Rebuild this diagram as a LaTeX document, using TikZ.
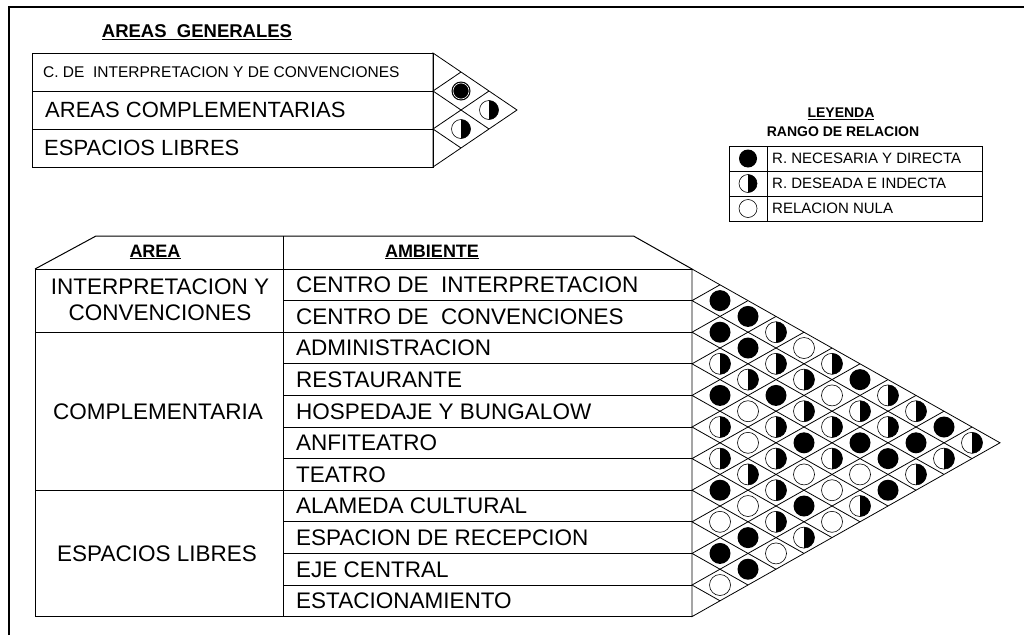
\documentclass[tikz,border=0pt]{standalone}
\usepackage{fontspec}
\setmainfont{Liberation Sans}
\usetikzlibrary{positioning}

\tikzset{
  tbl/.style={line width=1pt},
  gridln/.style={line width=0.8pt},
  relring/.style={line width=0.6pt},
  txtl/.style={anchor=west, inner sep=0pt, text depth=0pt},
  txtc/.style={anchor=center, inner sep=0pt, text depth=0pt},
  hdr/.style={anchor=center, inner sep=0pt, text depth=0pt, font=\bfseries\fontsize{18}{20}\selectfont},
}

% cell k (diagonal distance), i (upper row) of a relation triangle
\newcommand{\relB}[2]{\fill[black] ({\mx+#1*\ma},{\my+(2*#2+#1+1)*(\mb)}) circle (\rr);}
\newcommand{\relH}[2]{\draw[relring,fill=white] ({\mx+#1*\ma},{\my+(2*#2+#1+1)*(\mb)}) circle (\rr);
  \fill[black] ({\mx+#1*\ma},{\my+(2*#2+#1+1)*(\mb)}) ++(0,\rr) arc (90:-90:\rr) -- cycle;}
\newcommand{\relE}[2]{\draw[relring,fill=white] ({\mx+#1*\ma},{\my+(2*#2+#1+1)*(\mb)}) circle (\rr);}
% diamond grid of a relation triangle
\newcommand{\relgrid}{%
  \draw[gridln] (\mx,\my) -- ({\mx+\mn*\ma},{\my+\mn*(\mb)}) -- ({\mx},{\my+2*\mn*(\mb)}) -- cycle;
  \pgfmathtruncatemacro{\mlast}{\mn-1}
  \foreach \m in {1,...,\mlast}
    \draw[gridln] ({\mx+\m*\ma},{\my+\m*(\mb)}) -- ({\mx},{\my+2*\m*(\mb)})
      -- ({\mx+(\mn-\m)*\ma},{\my+(\mn+\m)*(\mb)});
}

\begin{document}
\begin{tikzpicture}[x=1pt,y=1pt]
  \useasboundingbox (0,0) rectangle (1024,-635);

  % frame
  \draw[line width=2pt] (9,-635) -- (9,-7) -- (1024,-7);

  % ---------- areas generales ----------
  \node[hdr, font=\bfseries\fontsize{18.5}{20}\selectfont] (titulo) at (197,-31) {\underline{AREAS\ \ GENERALES}};
  \draw[tbl] (32,-53) rectangle (433,-167);
  \draw[tbl] (32,-91) -- (433,-91);
  \draw[tbl] (32,-129) -- (433,-129);
  \node[txtl, font=\fontsize{15.5}{18}\selectfont] (gInterp) at (43,-72) {C. DE\ \ INTERPRETACION Y DE CONVENCIONES};
  \node[txtl, font=\fontsize{22}{24}\selectfont] (gCompl) at (45,-110) {AREAS COMPLEMENTARIAS};
  \node[txtl, font=\fontsize{22}{24}\selectfont] (gLibres) at (44,-148) {ESPACIOS LIBRES};

  \def\mx{433}
  \def\my{-53}
  \def\ma{28}
  \def\mb{-19}
  \def\mn{3}
  \def\rr{9.5}
  \relgrid
  \fill[black] (461,-91) circle (\rr);
  \draw[white, line width=0.6pt] (461,-91) circle (8);
  \relH{1}{1}
  \relH{2}{0}

  % ---------- leyenda ----------
  \node[hdr, font=\bfseries\fontsize{14}{16}\selectfont] (leyenda) at (841,-113) {\underline{LEYENDA}};
  \node[hdr, font=\bfseries\fontsize{14}{16}\selectfont] (rango) at (843,-132) {RANGO DE RELACION};
  \draw[tbl] (729,-146) rectangle (982,-221);
  \draw[tbl] (729,-171) -- (982,-171);
  \draw[tbl] (729,-196) -- (982,-196);
  \draw[tbl] (767,-146) -- (767,-221);
  \def\rr{9}
  \fill[black] (748,-158.5) circle (\rr);
  \draw[relring,fill=white] (748,-183.5) circle (\rr);
  \fill[black] (748,-183.5) ++(0,\rr) arc (90:-90:\rr) -- cycle;
  \draw[relring,fill=white] (748,-208.5) circle (\rr);
  \node[txtl, font=\fontsize{15}{17}\selectfont] (lNec) at (772,-158.5) {R. NECESARIA Y DIRECTA};
  \node[txtl, font=\fontsize{15}{17}\selectfont] (lDes) at (772,-183.5) {R. DESEADA E INDECTA};
  \node[txtl, font=\fontsize{15}{17}\selectfont] (lNul) at (772,-208.5) {RELACION NULA};

  % ---------- area / ambiente table ----------
  \def\rh{31.6}
  \draw[tbl] (35,-269) -- (96,-236) -- (633.5,-236) -- (692,-269);
  \draw[tbl] (35,-269) -- (692,-269);
  \draw[tbl] (35,-269) -- (35,-616.6) -- (692,-616.6);
  \draw[tbl] (283,-236) -- (283,-616.6);
  \draw[tbl] (35,-332.2) -- (283,-332.2);
  \draw[tbl] (35,-490.2) -- (283,-490.2);
  \foreach \r in {1,...,10}
    \draw[tbl] (283,{-269-\r*\rh}) -- (692,{-269-\r*\rh});

  \node[hdr] (hArea) at (155,-251) {\underline{AREA}};
  \node[hdr] (hAmb) at (432,-251) {\underline{AMBIENTE}};

  \node[txtc, font=\fontsize{22.5}{25}\selectfont] (aInt1) at (160,-287) {INTERPRETACION Y};
  \node[txtc, font=\fontsize{22.5}{25}\selectfont] (aInt2) at (160,-313) {CONVENCIONES};
  \node[txtc, font=\fontsize{22.5}{25}\selectfont] (aComp) at (158,-412) {COMPLEMENTARIA};
  \node[txtc, font=\fontsize{22.5}{25}\selectfont] (aLib) at (157,-554) {ESPACIOS LIBRES};

  \foreach \t [count=\r from 0] in {CENTRO DE\ \ INTERPRETACION, CENTRO DE\ \ CONVENCIONES,
      ADMINISTRACION, RESTAURANTE, HOSPEDAJE Y BUNGALOW, ANFITEATRO, TEATRO,
      ALAMEDA CULTURAL, ESPACION DE RECEPCION, EJE CENTRAL, ESTACIONAMIENTO}
    \node[txtl, font=\fontsize{22.5}{25}\selectfont] (amb\r) at (296,{-269-(\r+0.5)*\rh}) {\t};

  % ---------- relation triangle ----------
  \def\mx{692}
  \def\my{-269}
  \def\ma{28}
  \def\mb{-15.8}
  \def\mn{11}
  \def\rr{10.5}
  \relgrid
  % k = 1
  \relB{1}{0} \relB{1}{1} \relH{1}{2} \relB{1}{3} \relH{1}{4}
  \relH{1}{5} \relB{1}{6} \relE{1}{7} \relB{1}{8} \relE{1}{9}
  % k = 2
  \relB{2}{0} \relB{2}{1} \relH{2}{2} \relE{2}{3} \relE{2}{4}
  \relH{2}{5} \relE{2}{6} \relB{2}{7} \relB{2}{8}
  % k = 3
  \relH{3}{0} \relH{3}{1} \relB{3}{2} \relH{3}{3} \relH{3}{4}
  \relH{3}{5} \relH{3}{6} \relE{3}{7}
  % k = 4
  \relE{4}{0} \relH{4}{1} \relH{4}{2} \relB{4}{3} \relE{4}{4}
  \relB{4}{5} \relH{4}{6}
  % k = 5
  \relH{5}{0} \relE{5}{1} \relH{5}{2} \relH{5}{3} \relE{5}{4} \relE{5}{5}
  % k = 6
  \relB{6}{0} \relH{6}{1} \relB{6}{2} \relE{6}{3} \relH{6}{4}
  % k = 7
  \relH{7}{0} \relH{7}{1} \relB{7}{2} \relB{7}{3}
  % k = 8
  \relH{8}{0} \relB{8}{1} \relH{8}{2}
  % k = 9 and 10
  \relB{9}{0} \relH{9}{1}
  \relH{10}{0}
\end{tikzpicture}
\end{document}
